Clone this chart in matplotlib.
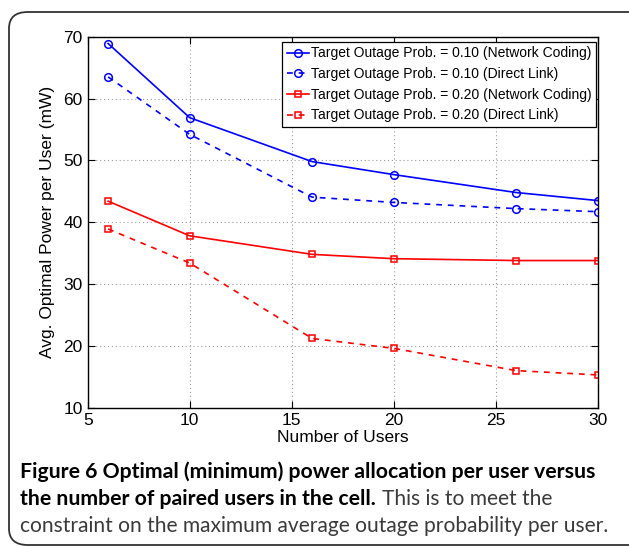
import matplotlib
matplotlib.use("Agg")
import matplotlib.pyplot as plt
from matplotlib.patches import FancyBboxPatch

users = [6, 10, 16, 20, 26, 30]
nc_010 = [68.9, 56.9, 49.8, 47.7, 44.8, 43.5]
dl_010 = [63.5, 54.2, 44.05, 43.2, 42.2, 41.7]
nc_020 = [43.4, 37.8, 34.8, 34.1, 33.8, 33.8]
dl_020 = [38.9, 33.4, 21.2, 19.6, 16.0, 15.3]

labels = [
    "Target Outage Prob. = 0.10 (Network Coding)",
    "Target Outage Prob. = 0.10 (Direct Link)",
    "Target Outage Prob. = 0.20 (Network Coding)",
    "Target Outage Prob. = 0.20 (Direct Link)",
]
xticks = [5, 10, 15, 20, 25, 30]
yticks = [10, 20, 30, 40, 50, 60, 70]

plt.rcParams['font.family'] = ['Liberation Sans', 'DejaVu Sans']

W, H = 629, 547
fig = plt.figure(figsize=(W / 100, H / 100), dpi=100)

# rounded frame around figure
frame = FancyBboxPatch((9 / W, 2 / H), (W + 30) / W, (H - 14) / H,
                       boxstyle="round,pad=0,rounding_size=0.03",
                       transform=fig.transFigure, fill=False,
                       edgecolor='#333333', linewidth=1.3, clip_on=False)
fig.patches.append(frame)

ax_l, ax_r, ax_t, ax_b = 87.7, 597.7, 36.7, 407.7
ax = fig.add_axes([ax_l / W, 1 - ax_b / H, (ax_r - ax_l) / W, (ax_b - ax_t) / H])

common = dict(markerfacecolor='none', markeredgewidth=1.1, linewidth=1.2)
ax.plot(users, nc_010, '-', color='blue', marker='o', markersize=5.5,
        label=labels[0], **common)
ax.plot(users, dl_010, '--', color='blue', marker='o', markersize=5.5,
        label=labels[1], dashes=(3.5, 3.5), **common)
ax.plot(users, nc_020, '-', color='red', marker='s', markersize=4.5,
        label=labels[2], **common)
ax.plot(users, dl_020, '--', color='red', marker='s', markersize=4.5,
        label=labels[3], dashes=(3.5, 3.5), **common)

ax.set_xlim(5, 30)
ax.set_ylim(10, 70)
ax.set_xticks(xticks)
ax.set_yticks(yticks)
ax.tick_params(direction='in', top=True, right=True, length=5, labelsize=12.5,
               width=0.8)
ax.grid(True, linestyle=(0, (1, 2.5)), color='#999999', linewidth=0.8)
for s in ax.spines.values():
    s.set_linewidth(1.0)

ax.set_xlabel("Number of Users", fontsize=12.5, labelpad=2)
ax.set_ylabel("Avg. Optimal Power per User (mW)", fontsize=12.5, labelpad=6)

leg = ax.legend(loc='upper right', bbox_to_anchor=(0.9967, 0.9857), borderaxespad=0,
                fontsize=10.0, handlelength=1.6, handletextpad=0.15, labelspacing=0.48,
                borderpad=0.32, fancybox=False, framealpha=1, edgecolor='black')
leg.get_frame().set_linewidth(0.9)

# caption
cap_x = 20 / W
cfont = ['Lato', 'DejaVu Sans']
cs = 15.3
fig.text(cap_x, 1 - 472 / H, "Figure 6 Optimal (minimum) power allocation per user versus",
         fontsize=cs, fontweight='bold', family=cfont, va='center', ha='left')
t2 = fig.text(cap_x, 1 - 499 / H, "the number of paired users in the cell.",
              fontsize=cs, fontweight='bold', family=cfont, va='center', ha='left')
fig.canvas.draw()
ext = t2.get_window_extent()
fig.text((ext.x1 + 6) / W, 1 - 499 / H, "This is to meet the",
         fontsize=cs - 0.2, color='#3a3a3a', family=cfont, va='center', ha='left')
fig.text(cap_x, 1 - 526 / H, "constraint on the maximum average outage probability per user.",
         fontsize=cs - 0.2, color='#3a3a3a', family=cfont, va='center', ha='left')

fig.savefig("out.png", dpi=100)
